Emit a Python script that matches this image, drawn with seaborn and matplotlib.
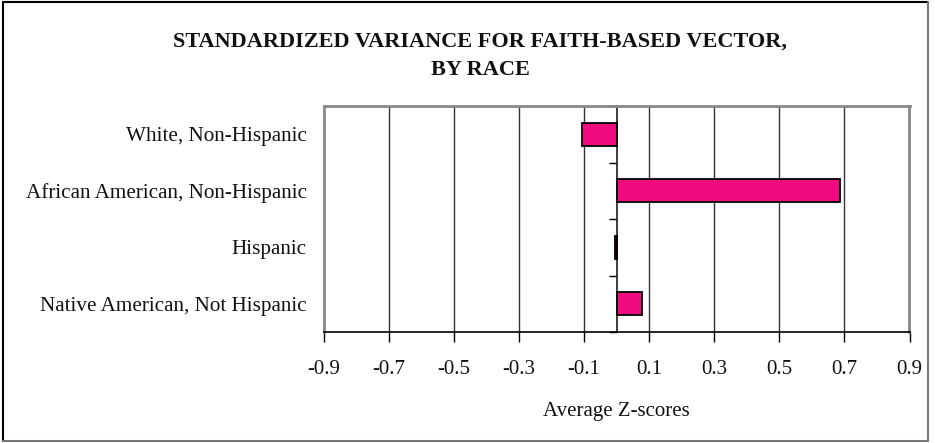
import matplotlib
matplotlib.use("Agg")
import matplotlib.pyplot as plt
from matplotlib.lines import Line2D
import seaborn as sns
import pandas as pd
import numpy as np

# Data
groups = [
    "White, Non-Hispanic",
    "African American, Non-Hispanic",
    "Hispanic",
    "Native American, Not Hispanic",
]
z_scores = [-0.106, 0.688, -0.004, 0.078]
x_ticks = [-0.9, -0.7, -0.5, -0.3, -0.1, 0.1, 0.3, 0.5, 0.7, 0.9]
x_tick_labels = ["-0.9", "-0.7", "-0.5", "-0.3", "-0.1", "0.1", "0.3", "0.5", "0.7", "0.9"]

title_lines = ["STANDARDIZED VARIANCE FOR FAITH-BASED VECTOR,", "BY RACE"]
x_label = "Average Z-scores"

df = pd.DataFrame({"group": groups, "z": z_scores})

sns.set_theme(style="white")
plt.rcParams["font.family"] = ["Liberation Serif", "DejaVu Serif"]

W, H = 935, 443
fig = plt.figure(figsize=(W / 100, H / 100), dpi=100)
ax = fig.add_axes([323.5 / W, 1 - 332 / H, (909.5 - 323.5) / W, (332 - 106) / H])

sns.barplot(data=df, x="z", y="group", orient="h", color="#F00A80",
            edgecolor="black", linewidth=1.3, width=0.4, saturation=1, ax=ax)

ax.set_xlim(-0.9, 0.9)
ax.set_ylim(len(groups) - 0.5, -0.5)

# interior vertical gridlines
for xv in x_ticks[1:-1]:
    ax.axvline(xv, color="#333333", lw=1.0, zorder=0)

ax.set_xticks(x_ticks)
ax.set_xticklabels(x_tick_labels, fontsize=15, color="#111111")
ax.tick_params(axis="x", direction="out", length=7, width=1, color="black",
               pad=13, bottom=True)
ax.tick_params(axis="y", length=0, pad=12, labelsize=15.2, labelcolor="#111111")
ax.set_ylabel("")
ax.set_xlabel(x_label, fontsize=15, color="#111111", labelpad=17)

for side in ["top", "right", "left"]:
    ax.spines[side].set_visible(True)
    ax.spines[side].set_color("#888888")
    ax.spines[side].set_linewidth(2)
ax.spines["bottom"].set_color("black")
ax.spines["bottom"].set_linewidth(1.2)

# the zero axis with category divider ticks
zero_axis = ax.secondary_yaxis(0.5)
zero_axis.spines["left"].set_color("black")
zero_axis.spines["left"].set_linewidth(1.3)
zero_axis.set_yticks(np.arange(-0.5, len(groups) + 0.5, 1.0))
zero_axis.set_yticklabels([])
zero_axis.tick_params(axis="y", direction="in", length=6, width=1, color="black")

# title
fig.text(480 / W, 1 - 42 / H, title_lines[0], ha="center", va="center",
         fontsize=16, fontweight="bold", color="#111111")
fig.text(480 / W, 1 - 70 / H, title_lines[1], ha="center", va="center",
         fontsize=16, fontweight="bold", color="#111111")

# chart border
fig.add_artist(Line2D([3 / W, 3 / W], [1 - 2 / H, 1 - 441 / H], color="black", lw=1.5))
fig.add_artist(Line2D([3 / W, 928 / W], [1 - 2 / H, 1 - 2 / H], color="black", lw=1.5))
fig.add_artist(Line2D([928 / W, 928 / W], [1 - 2 / H, 1 - 441 / H], color="#777777", lw=1.5))
fig.add_artist(Line2D([3 / W, 928 / W], [1 - 441 / H, 1 - 441 / H], color="#777777", lw=1.5))

fig.savefig("out.png", dpi=100)
